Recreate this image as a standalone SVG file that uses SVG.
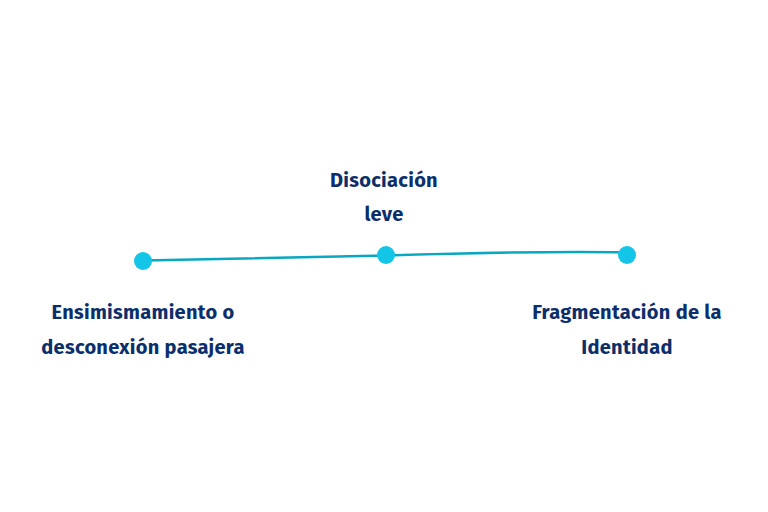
<svg xmlns="http://www.w3.org/2000/svg" width="768" height="512" viewBox="0 0 768 512">
<style>
.t{font-family:"Fira Sans","Open Sans","Liberation Sans",sans-serif;font-weight:700;font-size:20px;letter-spacing:0.3px;fill:#0c2f6b;text-anchor:middle}
.dot{fill:#13c5e6}
.ln{fill:none;stroke:#0aa7c2;stroke-width:2.5;stroke-linecap:round}
</style>
<rect width="768" height="512" fill="#ffffff"/>
<g id="connectors">
<path class="ln" d="M143,260.5 L386,255.5 C470,253 560,251 627,252.5"/>
</g>
<g id="node-left">
<circle class="dot" cx="143" cy="261" r="9"/>
<text class="t" x="143" y="319">Ensimismamiento o</text>
<text class="t" x="143" y="354">desconexión pasajera</text>
</g>
<g id="node-mid">
<circle class="dot" cx="386" cy="255" r="9"/>
<text class="t" x="384" y="187">Disociación</text>
<text class="t" x="384" y="221">leve</text>
</g>
<g id="node-right">
<circle class="dot" cx="627" cy="255" r="9"/>
<text class="t" x="627" y="319">Fragmentación de la</text>
<text class="t" x="627" y="354">Identidad</text>
</g>
</svg>
